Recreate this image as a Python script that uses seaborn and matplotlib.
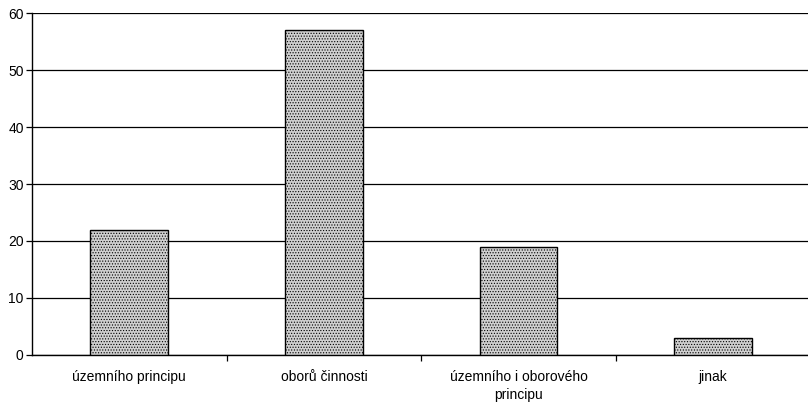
import pandas as pd
import matplotlib
matplotlib.use('Agg')
import matplotlib.pyplot as plt
import seaborn as sns
from matplotlib.ticker import FixedLocator

# Chart data
categories = ['územního principu', 'oborů činnosti', 'územního i oborového\nprincipu', 'jinak']
values = [22, 57, 19, 3]
y_ticks = [0, 10, 20, 30, 40, 50, 60]

df = pd.DataFrame({'Category': categories, 'Value': values})

sns.set_theme(style="white")
plt.rcParams['font.family'] = ['Liberation Sans', 'DejaVu Sans']
plt.rcParams['hatch.color'] = '#666666'
plt.rcParams['hatch.linewidth'] = 0.5

fig = plt.figure(figsize=(8.08, 4.04), dpi=100)
ax = fig.add_axes([0.0396, 0.1213, 0.9635, 0.8465])

sns.barplot(data=df, x='Category', y='Value', color='#cfcfcf', width=0.4,
            edgecolor='black', linewidth=1.0, saturation=1, ax=ax, zorder=3)
for bar in ax.patches:
    bar.set_hatch('......')

ax.set_ylim(0, 60)
ax.set_xlim(-0.5, len(categories) - 0.5)
ax.set_yticks(y_ticks)
ax.yaxis.grid(True, color='black', linewidth=0.9)
ax.set_axisbelow(True)
ax.set_xlabel('')
ax.set_ylabel('')

# ticks between categories on the x axis
ax.xaxis.set_minor_locator(FixedLocator([i + 0.5 for i in range(len(categories) - 1)]))
ax.tick_params(axis='x', which='major', length=0, pad=11, labelsize=10, labelcolor='black')
ax.tick_params(axis='x', which='minor', length=4, width=0.9, color='black', direction='out', bottom=True)
ax.tick_params(axis='y', length=4, width=0.9, color='black', direction='out', left=True,
               labelsize=10, labelcolor='black', pad=2)
for lbl in ax.get_xticklabels():
    lbl.set_linespacing(1.3)

for side in ['top', 'right']:
    ax.spines[side].set_visible(False)
for side in ['left', 'bottom']:
    ax.spines[side].set_color('black')
    ax.spines[side].set_linewidth(1.0)

fig.savefig('out.png', dpi=100)
